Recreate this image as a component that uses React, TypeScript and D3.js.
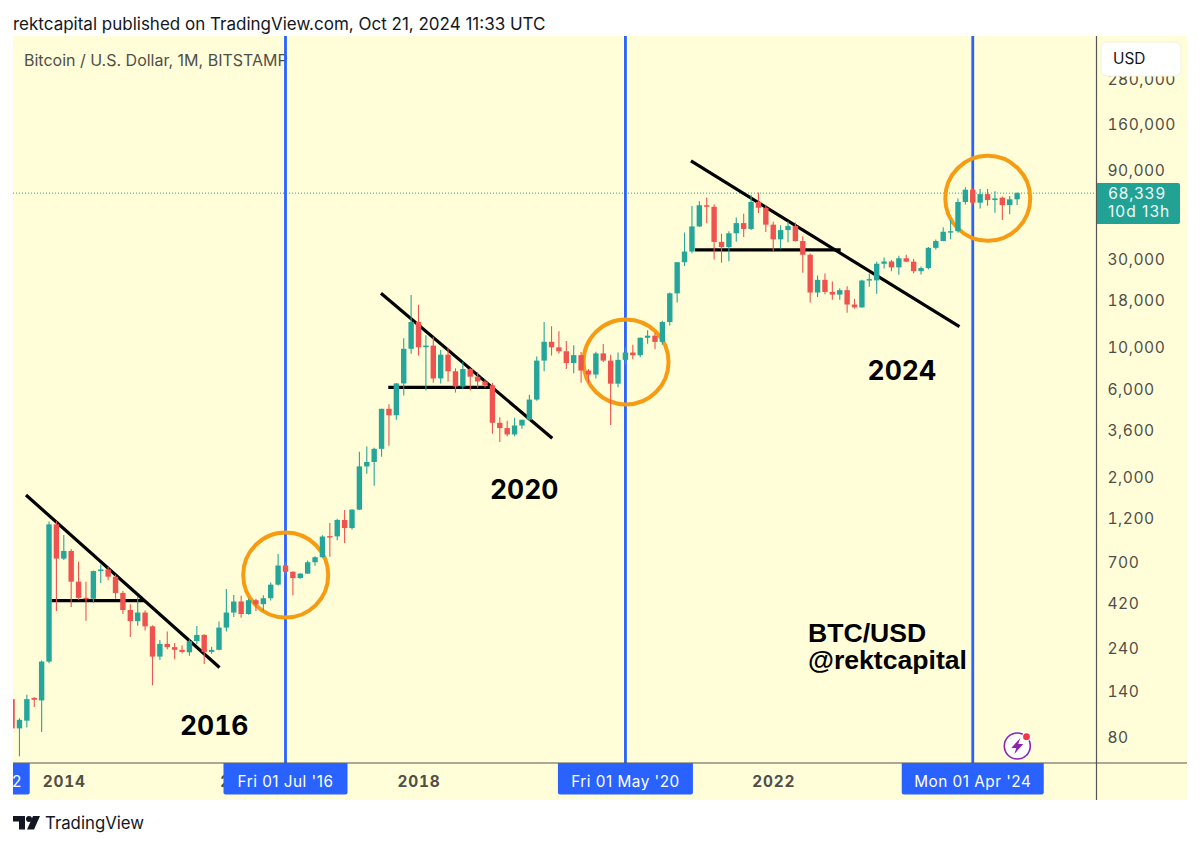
import React, { useEffect, useRef } from "react";
import * as d3 from "d3";

// monthly BTC/USD candles, first bar is Jun 2013, last is Oct 2024
const firstMonth = new Date(Date.UTC(2013, 5, 1));

const opens = [
  128, 89, 98, 130, 126, 204, 1120,
  732, 805, 550, 450, 445, 627, 640, 585, 478, 387, 337, 375,
  316, 217, 254, 244, 236, 229, 263, 284, 230, 236, 311, 375,
  430, 368, 437, 416, 448, 530, 672, 622, 575, 608, 700, 745,
  968, 965, 1183, 1070, 1345, 2300, 2430, 2860, 4700, 4340, 6440, 9900,
  13800, 10100, 10300, 6850, 9200, 7490, 6200, 7700, 7000, 6600, 6300, 3950,
  3700, 3420, 3820, 4100, 5270, 8550, 10800, 10080, 9600, 8300, 9150, 7560,
  7190, 9350, 8550, 6420, 8630, 9450, 9140, 11350, 11650, 10780, 13800, 19700,
  29000, 33100, 45200, 58800, 57700, 37300, 35000, 41500, 47100, 43800, 61300, 57000,
  46200, 38500, 43200, 45500, 37700, 31800, 19900, 23300, 20050, 19400, 20500, 17150,
  16550, 23100, 23150, 28450, 29250, 27200, 30450, 29200, 25950, 26950, 34650, 37700,
  42300, 42600, 61200, 71300, 60700, 67500, 62700, 64600, 58900, 63300,
];

const highs = [
  135, 101, 135, 131, 207, 1160, 1163,
  981, 825, 704, 550, 632, 680, 660, 600, 490, 415, 455, 385,
  320, 267, 296, 257, 249, 268, 317, 286, 245, 335, 502, 466,
  462, 445, 445, 465, 545, 775, 700, 625, 610, 715, 755, 980,
  1140, 1200, 1340, 1350, 2760, 2940, 2900, 4700, 4980, 6450, 11300, 19300,
  17100, 11700, 11500, 9750, 10020, 7770, 8450, 7800, 7400, 6780, 6500, 4230,
  4050, 4200, 4100, 5600, 9000, 13800, 13100, 12300, 10900, 10350, 9500, 7700,
  9550, 10500, 9180, 9450, 10050, 10400, 11400, 12470, 12050, 14000, 19900, 29000,
  41950, 58300, 61700, 64800, 59500, 41300, 42600, 50500, 52900, 67000, 68800, 59100,
  47900, 45800, 48200, 47400, 40000, 32300, 24600, 25200, 22800, 21000, 21500, 18400,
  23300, 25200, 29200, 30700, 29800, 31400, 31800, 30200, 27500, 35000, 38400, 44700,
  49000, 64000, 73500, 72800, 72000, 71900, 70000, 65600, 66000, 69000,
];

const lows = [
  78, 63, 90, 116, 85, 200, 382,
  720, 402, 438, 339, 422, 541, 560, 445, 368, 277, 318, 300,
  152, 208, 238, 210, 226, 219, 253, 198, 225, 235, 296, 355,
  352, 365, 382, 383, 435, 525, 600, 465, 570, 605, 670, 742,
  750, 920, 890, 1050, 1340, 2100, 1810, 2590, 2975, 4100, 5550, 9300,
  9100, 5900, 6500, 6430, 6600, 5750, 6000, 5900, 6100, 6100, 3450, 3115,
  3340, 3340, 3670, 4050, 5200, 7500, 9100, 9350, 7700, 7300, 6500, 6450,
  6850, 8400, 3850, 6150, 8150, 8700, 8900, 10530, 9850, 10400, 13200, 17600,
  27700, 32400, 44900, 47000, 30000, 28800, 29300, 37400, 39600, 43300, 53400, 42200,
  33000, 34300, 37200, 37500, 25400, 17600, 18800, 19500, 18200, 18200, 15500, 16300,
  16500, 21400, 19600, 26800, 25900, 24800, 29000, 25300, 24900, 26600, 34000, 37600,
  38500, 41800, 59300, 59100, 56500, 58400, 53500, 49000, 52500, 58900,
];

const closes = [
  89, 99, 128, 127, 204, 1120, 732,
  805, 550, 450, 445, 627, 640, 585, 478, 387, 337, 375, 316,
  217, 254, 244, 236, 230, 263, 284, 230, 236, 311, 375, 430,
  368, 437, 415, 448, 530, 672, 622, 575, 608, 700, 745, 963,
  960, 1183, 1070, 1345, 2300, 2430, 2860, 4700, 4340, 6440, 9900, 13800,
  10100, 10300, 6850, 9200, 7490, 6200, 7700, 7000, 6600, 6300, 3950, 3700,
  3420, 3820, 4100, 5270, 8550, 10800, 10080, 9600, 8300, 9150, 7560, 7190,
  9350, 8550, 6420, 8630, 9450, 9140, 11350, 11650, 10780, 13800, 19700, 29000,
  33100, 45200, 58800, 57700, 37300, 35000, 41500, 47100, 43800, 61300, 57000, 46200,
  38500, 43200, 45500, 37700, 31800, 19900, 23300, 20050, 19400, 20500, 17150, 16550,
  23100, 23500, 28450, 29250, 27200, 30450, 29200, 25950, 26950, 34650, 37700, 42300,
  42600, 61200, 71300, 60700, 67500, 62700, 64000, 58900, 63300, 68339,
];

const priceTicks = [280000, 160000, 90000, 30000, 18000, 10000, 6000, 3600, 2000, 1200, 700, 420, 240, 140, 80];
// 2020 and 2024 sit fully behind the date tags, so only these show
const yearTicks = [2014, 2016, 2018, 2022];
const lastPrice = 68339;

// halving month markers
const cycleMonths = [new Date(Date.UTC(2012, 11, 1)), new Date(Date.UTC(2016, 6, 1)), new Date(Date.UTC(2020, 4, 1)), new Date(Date.UTC(2024, 3, 1))];
const cycleLabels = ["Sat 01 Dec '12", "Fri 01 Jul '16", "Fri 01 May '20", "Mon 01 Apr '24"];
const cycleLabelWidths = [124, 124, 135, 142];

// drawings, as [bar index, price]
const trendLines = [
  [[1.88, 1613], [28.07, 189.6]],
  [[5.34, 434.5], [17.99, 434.5]],
  [[49.92, 19720], [73.1, 3260]],
  [[50.91, 6138], [65.12, 6138]],
  [[91.87, 101900], [128.2, 13025]],
  [[92.41, 33750], [112.13, 33750]],
];
const circles = [[37.03, 597], [83.08, 8405], [132.03, 64100]];

const notes = [
  { text: "2016", bar: 27.35, price: 82 },
  { text: "2020", bar: 69.3, price: 1535 },
  { text: "2024", bar: 120.4, price: 6723 },
];

const WIDTH = 1200;
const HEIGHT = 847;
const plot = { left: 13, right: 1096.5, top: 36, bottom: 763, outerRight: 1187, outerBottom: 800 };

const UI_FONT = "Inter, Roboto, sans-serif";
const UP = "#26a69a";
const DOWN = "#ef5350";
const BLUE = "#2962ff";
const AXIS = "#555555";
const TEXT = "#4f4f4a";

export default function App() {
  const ref = useRef<SVGSVGElement>(null);

  useEffect(() => {
    const svg = d3.select(ref.current);
    svg.selectAll("*").remove();

    const x = d3.scaleLinear().domain([0, opens.length - 1]).range([12.07, 1017.1]);
    const y = d3.scaleLog().domain([80, 280000]).range([737, 79.5]);
    const barOf = (d: Date) => d3.utcMonth.count(firstMonth, d);
    const bars = d3.range(opens.length);

    svg.append("rect").attr("width", WIDTH).attr("height", HEIGHT).attr("fill", "#fff");
    svg
      .append("rect")
      .attr("x", plot.left)
      .attr("y", plot.top)
      .attr("width", plot.outerRight - plot.left)
      .attr("height", plot.outerBottom - plot.top)
      .attr("fill", "#fffed8");

    svg
      .append("defs")
      .append("clipPath")
      .attr("id", "pane")
      .append("rect")
      .attr("x", plot.left)
      .attr("y", plot.top)
      .attr("width", plot.right - plot.left)
      .attr("height", plot.bottom - plot.top);

    svg
      .append("defs")
      .append("clipPath")
      .attr("id", "frame")
      .append("rect")
      .attr("x", plot.left)
      .attr("y", plot.top)
      .attr("width", plot.outerRight - plot.left)
      .attr("height", plot.outerBottom - plot.top);

    // header
    svg
      .append("text")
      .attr("x", 13)
      .attr("y", 30)
      .attr("font-family", UI_FONT)
      .attr("font-size", 17)
      .attr("fill", "#131722")
      .text("rektcapital published on TradingView.com, Oct 21, 2024 11:33 UTC");

    svg
      .append("text")
      .attr("x", 24)
      .attr("y", 66)
      .attr("font-family", UI_FONT)
      .attr("font-size", 16)
      .attr("fill", TEXT)
      .text("Bitcoin / U.S. Dollar, 1M, BITSTAMP");

    const pane = svg.append("g").attr("clip-path", "url(#pane)");

    // last price line
    pane
      .append("line")
      .attr("x1", plot.left)
      .attr("x2", plot.right)
      .attr("y1", y(lastPrice))
      .attr("y2", y(lastPrice))
      .attr("stroke", UP)
      .attr("stroke-width", 1)
      .attr("stroke-dasharray", "1 2");

    // drawings sit under the candles
    pane
      .selectAll("line.cycle")
      .data(cycleMonths.slice(1))
      .enter()
      .append("line")
      .attr("class", "cycle")
      .attr("x1", (d) => x(barOf(d)))
      .attr("x2", (d) => x(barOf(d)))
      .attr("y1", plot.top)
      .attr("y2", plot.bottom)
      .attr("stroke", BLUE)
      .attr("stroke-width", 2.8);

    pane
      .selectAll("line.trend")
      .data(trendLines)
      .enter()
      .append("line")
      .attr("class", "trend")
      .attr("x1", (d) => x(d[0][0]))
      .attr("y1", (d) => y(d[0][1]))
      .attr("x2", (d) => x(d[1][0]))
      .attr("y2", (d) => y(d[1][1]))
      .attr("stroke", "#000")
      .attr("stroke-width", 3.2);

    pane
      .selectAll("circle.ring")
      .data(circles)
      .enter()
      .append("circle")
      .attr("class", "ring")
      .attr("cx", (d) => x(d[0]))
      .attr("cy", (d) => y(d[1]))
      .attr("r", 42.5)
      .attr("fill", "none")
      .attr("stroke", "#f79c12")
      .attr("stroke-width", 4);

    // candles
    const candle = pane
      .selectAll("g.candle")
      .data(bars)
      .enter()
      .append("g")
      .attr("class", "candle")
      .attr("fill", (i) => (closes[i] >= opens[i] ? UP : DOWN))
      .attr("stroke", (i) => (closes[i] >= opens[i] ? UP : DOWN));

    candle
      .append("line")
      .attr("x1", (i) => x(i))
      .attr("x2", (i) => x(i))
      .attr("y1", (i) => y(highs[i]))
      .attr("y2", (i) => y(lows[i]))
      .attr("stroke-width", 1.1);

    candle
      .append("rect")
      .attr("x", (i) => x(i) - 2.7)
      .attr("width", 5.4)
      .attr("y", (i) => y(Math.max(opens[i], closes[i])))
      .attr("height", (i) => Math.max(1.4, Math.abs(y(opens[i]) - y(closes[i]))))
      .attr("stroke", "none");

    // big labels
    svg
      .selectAll("text.note")
      .data(notes)
      .enter()
      .append("text")
      .attr("class", "note")
      .attr("x", (d) => x(d.bar))
      .attr("y", (d) => y(d.price))
      .attr("text-anchor", "middle")
      .attr("font-family", UI_FONT)
      .attr("font-weight", 700)
      .attr("font-size", 26.5)
      .attr("fill", "#000")
      .style("font-variant-numeric", "tabular-nums")
      .text((d) => d.text);

    const sign = svg.append("g").attr("font-family", "'Liberation Sans', Arial, sans-serif").attr("font-weight", 700).attr("font-size", 26.6).attr("fill", "#000");
    sign.append("text").attr("x", 808).attr("y", 642).text("BTC/USD");
    sign.append("text").attr("x", 808).attr("y", 669).text("@rektcapital");

    // price axis
    const yAxis = svg
      .append("g")
      .attr("clip-path", "url(#frame)")
      .append("g")
      .attr("transform", `translate(${plot.right},0)`)
      .call(d3.axisRight(y).tickValues(priceTicks).tickFormat(d3.format(",") as any).tickSize(0).tickPadding(11));
    yAxis.select(".domain").remove();
    yAxis.selectAll("text").attr("font-family", UI_FONT).attr("font-size", 15.6).attr("letter-spacing", 0.5).attr("fill", TEXT).style("font-variant-numeric", "tabular-nums");

    // time axis
    const xAxis = svg
      .append("g")
      .attr("clip-path", "url(#frame)")
      .append("g")
      .attr("transform", `translate(0,${plot.bottom})`)
      .call(
        d3
          .axisBottom(x)
          .tickValues(yearTicks.map((yr) => barOf(new Date(Date.UTC(yr, 0, 1)))))
          .tickFormat((_, i) => String(yearTicks[i]))
          .tickSize(0)
          .tickPadding(13)
      );
    xAxis.select(".domain").remove();
    xAxis.selectAll("text").attr("font-family", UI_FONT).attr("font-size", 15.4).attr("font-weight", 700).attr("letter-spacing", 0.8).attr("fill", TEXT).style("font-variant-numeric", "tabular-nums");

    svg.append("line").attr("x1", plot.left).attr("x2", plot.outerRight).attr("y1", plot.bottom).attr("y2", plot.bottom).attr("stroke", AXIS).attr("stroke-width", 1.2);
    svg.append("line").attr("x1", plot.right).attr("x2", plot.right).attr("y1", plot.top).attr("y2", plot.outerBottom).attr("stroke", AXIS).attr("stroke-width", 1.2);

    // date tags on the time axis
    const tag = svg
      .append("g")
      .attr("clip-path", "url(#frame)")
      .selectAll("g")
      .data(cycleMonths)
      .enter()
      .append("g")
      .attr("transform", (d) => `translate(${x(barOf(d))},${plot.bottom})`);
    tag
      .append("path")
      .attr("d", (_, i) => {
        const w = cycleLabelWidths[i] / 2;
        return `M${-w},0H${w}V29.5a2,2 0 0 1 -2,2H${-w + 2}a2,2 0 0 1 -2,-2Z`;
      })
      .attr("fill", BLUE);
    tag
      .append("text")
      .attr("y", 24)
      .attr("text-anchor", "middle")
      .attr("font-family", UI_FONT)
      .attr("font-size", 15.3)
      .attr("letter-spacing", 0.5)
      .attr("fill", "#fff")
      .text((_, i) => cycleLabels[i]);

    // last price tag
    svg.append("path").attr("d", "M1097,183H1178a2,2 0 0 1 2,2V222a2,2 0 0 1 -2,2H1097Z").attr("fill", "#22a295");
    svg.append("text").attr("x", 1108).attr("y", 199).attr("font-family", UI_FONT).attr("font-size", 15.6).attr("letter-spacing", 0.5).attr("fill", "#eef9f7").style("font-variant-numeric", "tabular-nums").text(d3.format(",")(lastPrice));
    svg.append("text").attr("x", 1108).attr("y", 217).attr("font-family", UI_FONT).attr("font-size", 15.6).attr("letter-spacing", 1).attr("fill", "#eef9f7").text("10d 13h");

    // currency button
    svg.append("rect").attr("x", 1101).attr("y", 42).attr("width", 80).attr("height", 34).attr("rx", 6).attr("fill", "#fff").attr("stroke", "#f2f2e0");
    svg.append("text").attr("x", 1113).attr("y", 64).attr("font-family", UI_FONT).attr("font-size", 15.4).attr("fill", "#131722").text("USD");

    // replay badge
    const badge = svg.append("g").attr("transform", "translate(1017.3,746)");
    badge.append("circle").attr("r", 15).attr("fill", "#fff");
    badge.append("circle").attr("r", 13).attr("fill", "none").attr("stroke", "#8e24aa").attr("stroke-width", 1.6);
    badge.append("path").attr("d", "M3,-8L-6,2H-1L-3,8L6,-2H1Z").attr("fill", "#8e24aa");
    badge.append("circle").attr("cx", 9.2).attr("cy", -9.3).attr("r", 4.6).attr("fill", "#fff");
    badge.append("circle").attr("cx", 9.2).attr("cy", -9.3).attr("r", 3.4).attr("fill", "#f23645");

    // brand
    const logo = svg.append("g").attr("fill", "#131722");
    logo.append("path").attr("d", "M13,816H25V829.5H19V821.5H13Z");
    logo.append("circle").attr("cx", 29).attr("cy", 819).attr("r", 3);
    logo.append("path").attr("d", "M33,816H40L34,829.5H27Z");
    svg.append("text").attr("x", 45).attr("y", 829).attr("font-family", UI_FONT).attr("font-size", 16.8).attr("fill", "#131722").text("TradingView");
  }, []);

  return <svg ref={ref} width={WIDTH} height={HEIGHT} style={{ position: "absolute", left: 0, top: 0, display: "block" }} />;
}
